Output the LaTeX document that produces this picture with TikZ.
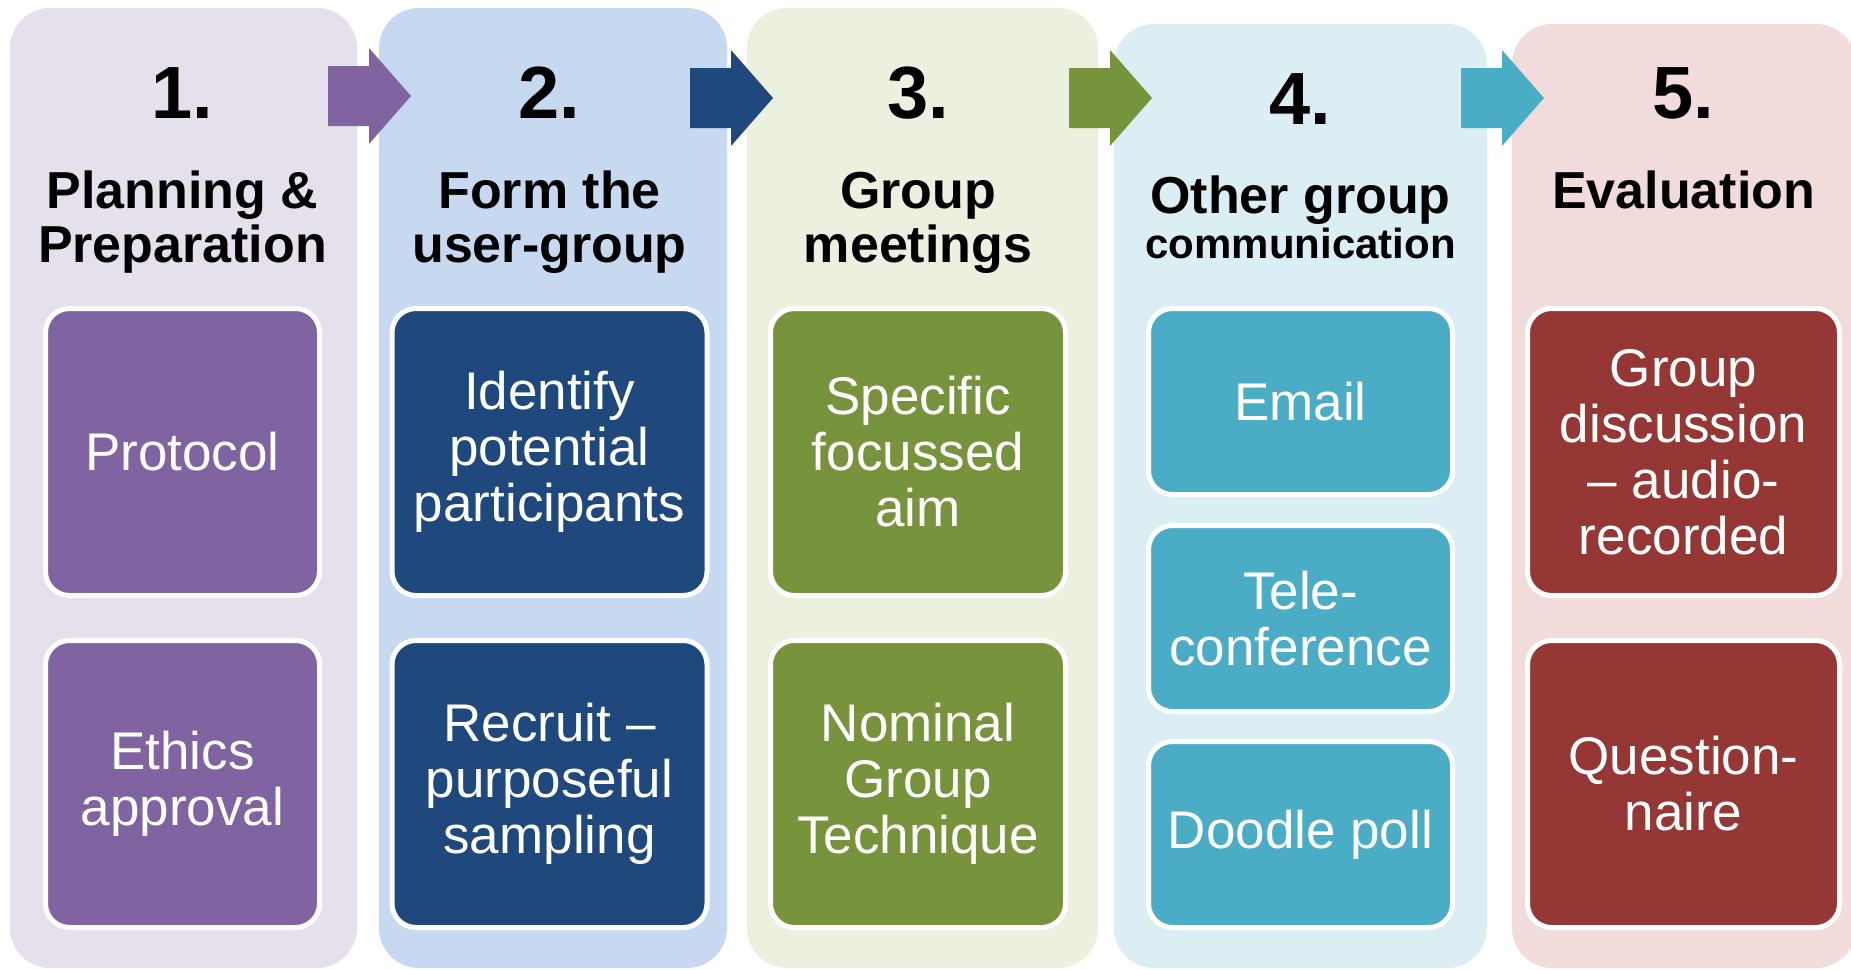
\documentclass[tikz,border=0pt]{standalone}
\usepackage{fontspec}
\setmainfont{Liberation Sans}

\definecolor{lilacbg}{HTML}{E5E0EC}
\definecolor{lilac}{HTML}{8064A2}
\definecolor{navybg}{HTML}{C6D9F1}
\definecolor{navy}{HTML}{1F497D}
\definecolor{olivebg}{HTML}{EBF1DE}
\definecolor{olive}{HTML}{77933C}
\definecolor{aquabg}{HTML}{DBEEF4}
\definecolor{aqua}{HTML}{4BACC6}
\definecolor{brickbg}{HTML}{F2DCDB}
\definecolor{brick}{HTML}{953735}

\tikzset{
  panel/.style={fill=#1, rounded corners=40pt, inner sep=0pt, minimum height=960pt},
  stepnum/.style={anchor=base, font=\bfseries\fontsize{74}{80}\selectfont},
  stephead/.style={anchor=base, font=\bfseries\fontsize{52}{54}\selectfont},
  task/.style={fill=#1, draw=white, line width=5pt, rounded corners=24pt, text=white,
               align=center, inner sep=0pt, font=\fontsize{53}{56}\selectfont}
}

\begin{document}
\begin{tikzpicture}[x=1pt, y=-1pt]
    \useasboundingbox (0,0) rectangle (1851,969);

    % panels
    \node[panel=lilacbg, minimum width=347pt] (p1) at (183.5,488) {};
    \node[panel=navybg, minimum width=348pt] (p2) at (553,488) {};
    \node[panel=olivebg, minimum width=351pt] (p3) at (922.5,488) {};
    \node[panel=aquabg, minimum width=373pt, minimum height=944pt] (p4) at (1300.5,496) {};
    \node[panel=brickbg, minimum width=344pt, minimum height=944pt] (p5) at (1684,496) {};

    % arrows between the panels
    \fill[lilac] (328,66) -- ++(41,0) -- ++(0,-18) -- ++(42,48) -- ++(-42,48) -- ++(0,-18) -- ++(-41,0) -- cycle;
    \fill[navy] (690,68) -- ++(41,0) -- ++(0,-18) -- ++(42,48) -- ++(-42,48) -- ++(0,-18) -- ++(-41,0) -- cycle;
    \fill[olive] (1069,68) -- ++(41,0) -- ++(0,-18) -- ++(42,48) -- ++(-42,48) -- ++(0,-18) -- ++(-41,0) -- cycle;
    \fill[aqua] (1461,68) -- ++(41,0) -- ++(0,-18) -- ++(42,48) -- ++(-42,48) -- ++(0,-18) -- ++(-41,0) -- cycle;

    % step 1
    \node[stepnum] (n1) at (182.5,118) {1.};
    \node[stephead] (h1a) at (182.5,208) {Planning \&};
    \node[stephead] (h1b) at (182.5,262) {Preparation};
    \node[task=lilac, minimum width=274pt, minimum height=287pt] (t1a) at (182.5,452) {Protocol};
    \node[task=lilac, minimum width=274pt, minimum height=287pt] (t1b) at (182.5,784) {Ethics\\approval};

    % step 2
    \node[stepnum] (n2) at (549.5,118) {2.};
    \node[stephead] (h2a) at (549.5,208) {Form the};
    \node[stephead] (h2b) at (549.5,262) {user-group};
    \node[task=navy, minimum width=315pt, minimum height=287pt] (t2a) at (549.5,452) {Identify\\potential\\participants};
    \node[task=navy, minimum width=315pt, minimum height=287pt] (t2b) at (549.5,784) {Recruit --\\purposeful\\sampling};

    % step 3
    \node[stepnum] (n3) at (918,118) {3.};
    \node[stephead] (h3a) at (918,208) {Group};
    \node[stephead] (h3b) at (918,262) {meetings};
    \node[task=olive, minimum width=295pt, minimum height=287pt] (t3a) at (918,452) {Specific\\focussed\\aim};
    \node[task=olive, minimum width=295pt, minimum height=287pt] (t3b) at (918,784) {Nominal\\Group\\Technique};

    % step 4
    \node[stepnum] (n4) at (1300.5,124) {4.};
    \node[stephead] (h4a) at (1300.5,213) {Other group};
    \node[stephead, font=\bfseries\fontsize{42}{45}\selectfont] (h4b) at (1300.5,258) {communication};
    \node[task=aqua, minimum width=304pt, minimum height=186pt] (t4a) at (1300.5,401.5) {Email};
    \node[task=aqua, minimum width=304pt, minimum height=186pt] (t4b) at (1300.5,618.5) {Tele-\\conference};
    \node[task=aqua, minimum width=304pt, minimum height=186pt] (t4c) at (1300.5,834.5) {Doodle poll};

    % step 5
    \node[stepnum] (n5) at (1683.5,118) {5.};
    \node[stephead] (h5a) at (1683.5,208) {Evaluation};
    \node[task=brick, minimum width=312pt, minimum height=287pt] (t5a) at (1683.5,452) {Group\\discussion\\-- audio-\\recorded};
    \node[task=brick, minimum width=312pt, minimum height=287pt] (t5b) at (1683.5,784) {Question-\\naire};

\end{tikzpicture}
\end{document}
